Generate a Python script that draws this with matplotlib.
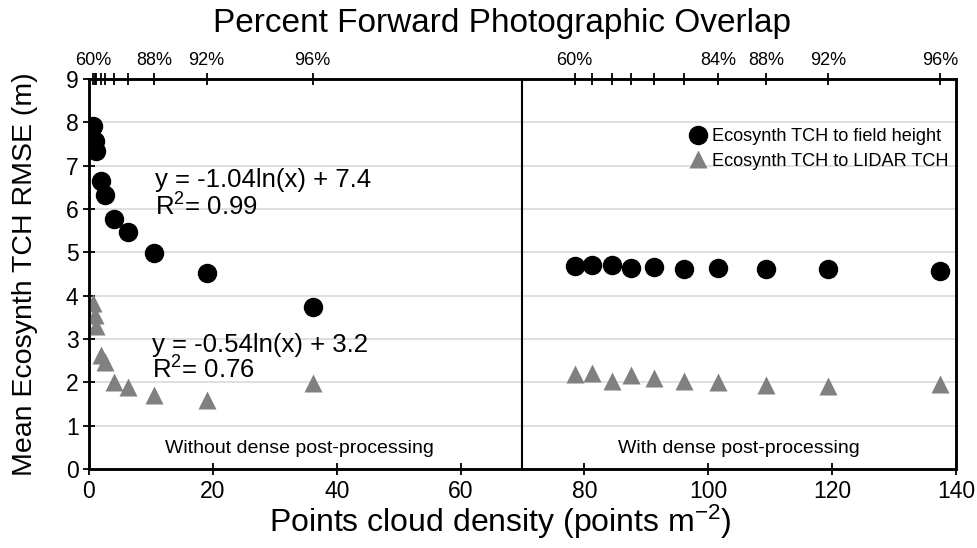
import matplotlib
matplotlib.use("Agg")
import matplotlib.pyplot as plt

plt.rcParams['font.family'] = ['Liberation Sans', 'DejaVu Sans']
plt.rcParams['mathtext.default'] = 'regular'

# without dense post-processing
sparse_density = [0.7, 1.0, 1.2, 2.0, 2.6, 4.1, 6.3, 10.5, 19.0, 36.1]
sparse_field = [7.92, 7.56, 7.33, 6.65, 6.33, 5.77, 5.48, 4.98, 4.52, 3.73]
sparse_lidar = [3.83, 3.56, 3.29, 2.63, 2.48, 2.02, 1.90, 1.71, 1.59, 1.99]

# with dense post-processing
dense_density = [78.4, 81.3, 84.4, 87.6, 91.2, 96.1, 101.6, 109.3, 119.4, 137.4]
dense_field = [4.69, 4.71, 4.71, 4.63, 4.66, 4.62, 4.63, 4.62, 4.62, 4.56]
dense_lidar = [2.19, 2.22, 2.03, 2.16, 2.10, 2.03, 2.02, 1.94, 1.92, 1.96]

# forward overlap for each density (top axis)
overlap = [60, 64, 68, 72, 76, 80, 84, 88, 92, 96]
sparse_overlap_shown = [60, 88, 92, 96]
dense_overlap_shown = [60, 84, 88, 92, 96]

fig = plt.figure(figsize=(9.78, 5.48), dpi=100)
ax = fig.add_axes([0.091, 0.144, 0.8865, 0.712])

black = '#000000'
grey = '#808080'

ax.plot(sparse_density, sparse_field, 'o', color=black, ms=13, label='Ecosynth TCH to field height', zorder=3)
ax.plot(dense_density, dense_field, 'o', color=black, ms=13, zorder=3)
ax.plot(sparse_density, sparse_lidar, '^', color=grey, ms=13, mec='none', label='Ecosynth TCH to LIDAR TCH', zorder=3)
ax.plot(dense_density, dense_lidar, '^', color=grey, ms=13, mec='none', zorder=3)

ax.axvline(70, color='black', lw=1.5, zorder=2)

ax.set_xlim(0, 140)
ax.set_ylim(0, 9)
ax.set_xticks(range(0, 141, 20))
ax.set_yticks(range(0, 10))
ax.grid(axis='y', color='#d9d9d9', lw=1.2)
ax.set_axisbelow(True)
ax.tick_params(direction='inout', length=8, width=1.3, labelsize=16.5)
for s in ax.spines.values():
    s.set_linewidth(1.8)

# top axis: overlap percentage
top = ax.twiny()
top.set_xlim(ax.get_xlim())
top.set_xticks(sparse_density + dense_density)
labels = [f'{o}%' if o in sparse_overlap_shown else '' for o in overlap]
labels += [f'{o}%' if o in dense_overlap_shown else '' for o in overlap]
top.set_xticklabels(labels)
top.tick_params(direction='inout', length=8, width=1.3, labelsize=13, pad=3)
for s in top.spines.values():
    s.set_linewidth(1.8)

ax.text(10.7, 6.67, 'y = -1.04ln(x) + 7.4', fontsize=18.5, va='center')
ax.text(10.7, 6.05, 'R$^2$= 0.99', fontsize=18.5, va='center')
ax.text(10.2, 2.86, 'y = -0.54ln(x) + 3.2', fontsize=18.5, va='center')
ax.text(10.2, 2.29, 'R$^2$= 0.76', fontsize=18.5, va='center')

ax.text(34, 0.48, 'Without dense post-processing', fontsize=14, ha='center', va='center')
ax.text(105, 0.48, 'With dense post-processing', fontsize=14, ha='center', va='center')

ax.legend(loc='upper right', bbox_to_anchor=(1.0, 0.892), frameon=False, fontsize=13.1,
          handletextpad=0.2, handlelength=1.2, labelspacing=0.4, borderaxespad=0.0)

fig.text(0.513, 0.958, 'Percent Forward Photographic Overlap', fontsize=24, ha='center', va='center')
fig.text(0.512, 0.047, 'Points cloud density (points m$^{-2}$)', fontsize=23, ha='center', va='center')
fig.text(0.026, 0.5, 'Mean Ecosynth TCH RMSE (m)', fontsize=20.5, ha='center', va='center', rotation=90)

fig.savefig('out.png', dpi=100)
